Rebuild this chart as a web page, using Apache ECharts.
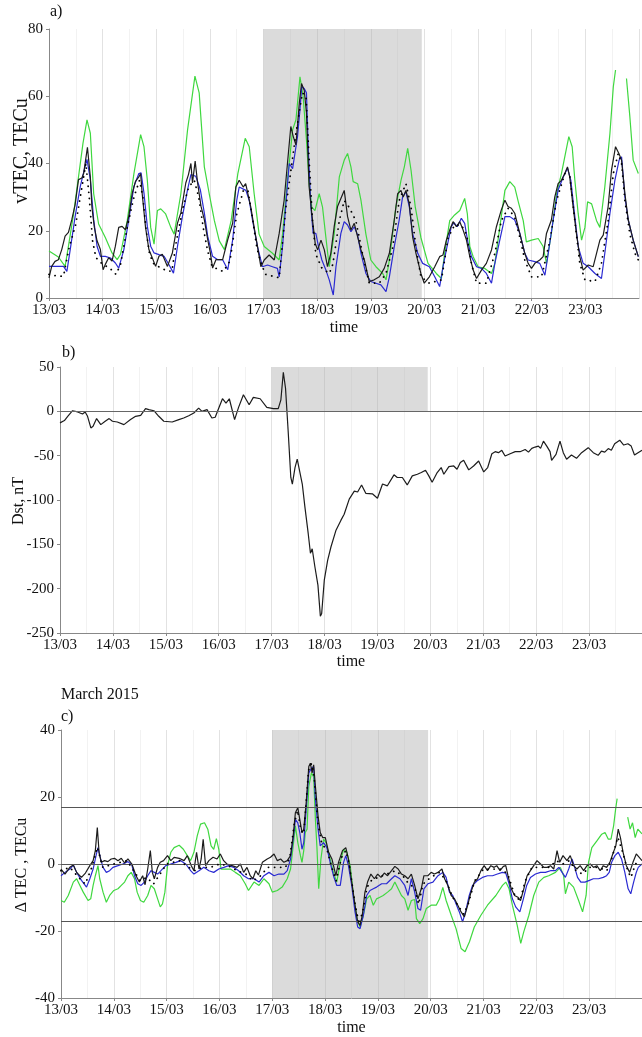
<!DOCTYPE html>
<html>
<head>
<meta charset="utf-8">
<script src="https://cdn.jsdelivr.net/npm/echarts@6/dist/echarts.min.js"></script>
<style>
  html, body { margin: 0; padding: 0; background: #fff; }
  #chart { width: 642px; height: 1037px; }
</style>
</head>
<body>
<div id="chart"></div>
<script>
// all series are [hours since 13/03 00:00, value]
const vtecGreen = [[0,14],[4.2,12.2],[7.2,9.4],[8.7,15.4],[11,25],[13.2,36],[15.2,46],[17,53],[18.5,49],[20,31],[22.2,22],[25.2,18],[28.2,13.4],[30.5,11.4],[32,13],[35,23],[38,37],[41,48.6],[42.5,45],[44,35],[45.5,21],[47,16],[48.5,26],[50,26.5],[52.2,25],[54.5,21],[56,19],[59,31],[62,50],[65.3,66],[67.2,61],[69.5,39],[71.7,31],[74,23],[76.2,17],[78.5,14.4],[81.5,23],[84.5,37],[87.8,47.5],[89.6,45],[91.8,31],[94,19],[96.3,15.3],[100,13.3],[103,11.3],[104.5,19],[106.7,35],[109,50],[110.5,53],[112.3,65.8],[113.7,60],[115.2,47],[116.4,34],[117.6,27],[119,26],[120.9,31],[122.4,27],[123.9,18],[125.4,9.3],[127.6,19],[129.9,36],[132.1,41],[133.6,43],[135.1,39],[136.1,34.6],[138.1,34],[139.6,29],[141.8,19],[144,11.3],[146.3,9.3],[149.3,7.3],[150.8,5.4],[152.3,11.3],[155.2,27],[157.5,35],[159,39],[160.5,44.5],[162,38],[163.9,27],[166.4,18],[169.6,10.3],[173.3,7.3],[175.6,5.8],[177,13.3],[179.3,23],[181.5,24.7],[183.8,26],[186,29.6],[187.2,25],[188.3,15.3],[189.8,12.3],[192,9.3],[195,8.8],[198,7.3],[199.5,10.3],[201.7,21],[204,32],[206.2,34.6],[208.4,33],[210,28.6],[212.2,23],[213.6,16.7],[215.9,17.2],[218.9,17.7],[221.1,15.3],[222.6,10.3],[224.8,19.2],[227.1,31],[229.3,37],[231.1,43],[232.6,48],[234.1,45],[235.3,35],[236.8,25],[238.3,17.2],[239.8,21],[241,28.6],[242.8,28],[245,23],[246.5,21],[248.7,33],[251,49],[252.5,62.8],[253.5,67.8],[255,'-'],[258.4,65.3],[259.9,54],[261.4,41],[263.7,37]];

const vtecBlue = [[0,9.4],[6.5,9.4],[8,7.9],[9.5,14.4],[11.7,24.3],[14,33.2],[15.8,38.2],[17,41.2],[18.5,35.2],[20,23.3],[21.5,15.4],[23,12.4],[25.2,12.4],[27.5,11.9],[29.7,10.4],[31.2,8.9],[33.5,14.4],[35.7,23.3],[38,33.2],[40.2,37],[41.2,37.2],[42.5,31.2],[44,21.3],[45.5,15.4],[47,13.4],[49.2,12.9],[51.5,12.4],[53.7,9.9],[55.7,7.4],[57.5,15.4],[59.7,24.3],[62,32.2],[63.5,36.7],[65.7,36.2],[67.7,32.2],[69.5,25.3],[71,18.4],[73.2,12.4],[75.5,11.4],[77.7,11.4],[80,8.4],[82.2,17.4],[84,29],[85.1,33],[88.1,32],[89.6,29],[91.1,23],[93.3,15.3],[95.5,9.3],[97.8,9.8],[100,9.3],[102.2,8.8],[103,6.3],[104.5,15.3],[106,28],[107.5,40],[109,38.5],[109.7,38],[111.2,48],[112.3,56],[113.1,62.8],[114.2,62.3],[115.2,61],[116.1,43],[117.2,27],[118.2,19.2],[119.4,19.2],[120.6,15.3],[122.1,11.3],[123.9,8.3],[125.4,5.4],[127.2,0.9],[128.4,9.3],[130.6,19.2],[132.1,22.7],[133.6,21.7],[135.1,19.7],[136.6,21.2],[138.1,18.7],[139.6,13.3],[141.8,7.3],[144,4.9],[146.3,4.4],[148.5,3.9],[150.8,1.9],[152.3,6.3],[154.5,15.3],[156.7,23.2],[158.2,30],[159.7,31.6],[161.2,27.2],[162.7,19.2],[165,13.3],[167.2,10.3],[170.2,9.3],[172.6,6.3],[174.8,3.4],[176.3,9.3],[177.8,14.3],[180,21.2],[181.2,22.4],[182.7,21.2],[184.5,23.7],[186,22.2],[187.5,16.3],[189,12.3],[191.3,9.3],[193.5,8.8],[195.7,7.3],[198,4.4],[199.5,10.3],[201.7,17.2],[204,24.2],[206.2,24.2],[208.4,23.2],[210.7,19.2],[212.9,13.3],[214.4,11.3],[217.4,10.8],[219.6,10.3],[221.9,6.8],[223.4,13.3],[225.6,23.2],[227.8,32.1],[230.1,36],[232,38.6],[233.5,35],[235.3,24.2],[236.8,15.3],[239,10.3],[241.3,9.3],[244.3,7.3],[247.2,5.8],[248.7,13.3],[251,25.2],[253.2,35],[255.1,41],[256.2,42],[257.7,30],[259.2,23.2],[261.4,17.2],[263.7,12.3]];

const vtecBlack = [[0,6],[1.2,9.4],[2.7,10.9],[4.2,11.4],[5.7,14.4],[7.2,18.4],[8.7,19.5],[10.2,23.3],[11.7,27.8],[13.2,35.2],[14.7,35.7],[15.5,37],[17.2,44.8],[18.5,36],[19.2,27],[20.3,21],[21.5,17],[23,14.4],[24.2,8.4],[25.2,10],[26.7,12],[28.2,11],[29.7,15.4],[31.2,21],[32.7,21.3],[34.2,20.3],[35.7,24.3],[37.2,31],[38.7,34.7],[40.2,36],[41,37],[41.7,31],[43.2,21],[44.7,14.4],[46.2,12],[47.7,9.4],[49.2,12.4],[50.7,13],[53,9.4],[55.2,13.4],[57.5,22.3],[59,25.3],[61.2,34.2],[62.4,36.7],[63.5,40],[64.2,34.2],[65.4,40.7],[66.5,34.2],[68,27.3],[69.5,23.3],[71,17.4],[72.2,13.4],[73.2,8.9],[74.7,11.4],[76.2,11.4],[77.7,11.4],[80,17.4],[82.2,22.3],[83.6,33],[85.1,35],[85.8,35.3],[86.9,33],[88,34],[88.8,34],[90.3,27],[91.8,21],[93.3,15.3],[94.8,9.3],[96.3,11.3],[98.5,12.8],[100.8,11.3],[103,19.2],[105.2,29],[106.7,40],[108.2,51],[109.3,48],[110.5,45.5],[112,58],[113,63.8],[114.2,61.8],[115.2,55],[116.4,33],[117.6,25],[119.1,16.3],[120.2,14.3],[121.7,17.2],[123.2,14.3],[124.6,9.3],[126.1,13.3],[127.6,21.2],[129.1,27.2],[130.6,29.6],[132.1,32],[133.6,24.2],[135.1,20.2],[136.6,22.2],[138.1,18.2],[139.6,14.3],[141.1,11.3],[143.3,4.9],[145.5,5.4],[147.8,6.3],[150,8.8],[152.3,13.3],[154.5,23.2],[156,31],[157.5,32],[158.5,30],[159.7,32],[161.2,28],[162.7,18.2],[164.2,13.3],[166.4,7.3],[167.9,4.4],[170.2,6.3],[172.6,9.3],[174.8,12.3],[176.3,12.8],[177.8,17.2],[179.3,20.2],[180.8,22.7],[182.3,21.2],[183.8,22.7],[185.3,20.2],[186.8,17.2],[188.3,12.3],[189.8,8.3],[191.3,5.8],[193.5,8.3],[195.7,10.3],[198,14.3],[200.2,21.2],[202.4,26.2],[204,29.1],[205.4,27.2],[206.9,26.7],[208.4,25.2],[209.9,21.2],[211.4,17.2],[212.9,13.3],[214.4,10.3],[215.9,8.8],[217.4,10.3],[219.6,11.3],[221.1,12.3],[222.6,19.2],[224.8,23.2],[226.3,30],[227.8,34],[229.3,35],[230.8,37],[232,39],[233,36],[234.5,27.2],[236,19.2],[237.5,12.3],[239,8.3],[241.3,9.8],[243.5,9.3],[245,13.3],[246.5,17.2],[248,18.7],[250.2,27.2],[251.7,38],[253.5,45],[255,43],[256.2,41],[257.7,31],[259.2,23.2],[261.4,17.2],[263.7,12.3]];

const vtecDots = [[0,7],[4,6.5],[6.5,6.5],[9,15],[12,22],[14,30],[16.5,40],[18,30],[19.5,17],[21,12],[24,10],[27,9],[30,7],[32,10],[35,21],[38,30],[40.5,35],[42,30],[43.5,20],[45,13],[47,10],[50,9],[53,8],[55,8],[57,17],[60,27],[62.5,33],[65,35],[67,30],[69,21],[71,14],[73,9.4],[76,8.4],[78,7.9],[81,11],[84,25],[87,32],[89,32],[91,24],[93,15],[95,10],[97,7],[100,6.5],[103,6],[106,27],[110.5,49],[113.4,61],[115,60],[116.4,41],[117.9,23],[119.4,13],[122,9],[125.4,7.3],[127,10],[129.9,23],[132.1,29],[134.3,27],[137.3,23],[140.3,13],[143.3,4.4],[147.8,4.4],[150.8,7.3],[153.8,15],[156.7,29],[159.7,34],[162,27],[164.2,15],[166.4,6.3],[170.2,4.4],[175.6,5.4],[178.6,18],[181.5,21.7],[184.5,21.7],[186.8,19],[189,10.3],[191.3,4.4],[195.7,4.4],[199.5,13.3],[202.4,23],[205.4,26.7],[208.4,24],[210.7,18],[212.9,11.3],[215.9,6.3],[220.4,6.3],[224.1,17],[227.1,29],[230.8,37],[233.1,36],[235.3,23],[237.5,10.3],[239.8,5.4],[244.3,4.9],[247.2,10.3],[250.2,23],[252.5,37],[254.7,43],[256.2,40],[257.7,29],[259.9,19],[262.2,13.3],[263.7,11.3]];

const dst = [[0,-13],[2,-10.4],[3.5,-5.6],[5.7,0.7],[8,-0.7],[10.2,-3],[11.4,-0.7],[12.5,-5.6],[14,-18.7],[15,-16.8],[16.6,-8.2],[18.5,-15],[20.5,-11.2],[22.3,-8.2],[23.8,-11.2],[26,-12],[29,-15],[32,-9.3],[34.3,-5.6],[36.6,-4.5],[38.8,3],[40.3,1.9],[42.6,0.7],[44.8,-5.6],[47.1,-11.2],[50.9,-12],[53.9,-9.3],[56.1,-7.5],[58.4,-4.9],[60.7,-1.9],[62.9,3.7],[64.4,0],[66.7,1.9],[68.9,-7.5],[70.4,-6.7],[71.9,3],[73.7,14.2],[75.3,9.3],[76.8,14.2],[79.2,-9.3],[81,4.5],[83.2,18.7],[85.8,7.5],[87.7,15.7],[90.8,14.2],[93.8,4.5],[96.8,3],[99,3],[100.2,13],[101.3,44],[102.3,26],[103.5,-22.4],[104.7,-74.6],[105.4,-82],[106.6,-63.4],[107.6,-54],[108.5,-56],[109.9,-82],[111.1,-108],[112.6,-138],[113.6,-160],[114.4,-155],[115.6,-175],[117,-196],[118.1,-231],[118.7,-228],[119.9,-190],[121.4,-168],[122.9,-153],[125.2,-134],[127.4,-123],[128.9,-116],[131.2,-99],[133.5,-90],[135,-91],[136.8,-83],[138.7,-92.5],[141.7,-93],[144,-98],[146.3,-82],[148.5,-84],[151.5,-71.6],[153,-74.6],[155.3,-74.6],[157.5,-83],[159.8,-72.8],[162.1,-71],[163.9,-69],[165.8,-66.4],[167.3,-72.8],[168.8,-80],[171.1,-69],[172.9,-63.4],[174.1,-71],[176.4,-62.3],[178.6,-61.6],[180.1,-65.3],[181.6,-57.8],[183.1,-55.2],[185.4,-66],[187.6,-61.6],[189.9,-56],[192.2,-68.3],[194,-63.4],[195.9,-47.8],[197.4,-45.5],[198.9,-46.6],[200.4,-44],[201.9,-50.4],[204.2,-47.8],[206.5,-45.5],[208.7,-45.5],[211,-43],[212.5,-46],[214,-41.8],[215.5,-40.3],[217,-39.2],[218,-41.8],[219.3,-33.6],[220.8,-39.2],[222.3,-45.5],[223,-55.2],[225,-48.5],[226.8,-33.6],[228.3,-46.6],[229.8,-54],[232,-49.3],[234.3,-53],[236.6,-46.6],[239.6,-41],[241.9,-46.6],[244.1,-49.6],[245.6,-44.8],[247.1,-46],[248.7,-42],[250.1,-44],[251.6,-36.6],[253.9,-32.5],[255.7,-38],[257.6,-36.6],[259.1,-39.2],[260.6,-49.3],[262.2,-46.6],[264,-44]];

const dtecBlack = [[0,-1.5],[1.8,-3],[4,-1],[5.6,-0.3],[7.1,-2.5],[9.3,-4],[11.1,-2.7],[13.1,-0.5],[14.6,1],[15.6,4],[16.5,10.9],[17.3,3.5],[18.3,0.5],[19.8,1],[21.3,0.7],[22.8,1.5],[24.3,1.7],[25.9,1],[27.4,1.7],[28.9,0.3],[30.4,1.5],[32.2,0],[34.1,-3.5],[35.6,-5.4],[37.1,-3.5],[38.2,-6.2],[39.4,-1.5],[40.6,4],[41.5,-2.5],[42.4,-4.4],[43.9,-1],[45.1,0.5],[46.6,1],[48.4,2.5],[49.9,1],[51.4,2],[53.7,1.7],[55.9,1],[57.4,2.5],[59.2,-0.5],[60.4,-2],[61.6,3.5],[62.7,-1.5],[63.7,1.5],[64.6,7.4],[65.7,-0.5],[67.2,1],[69.1,2],[70.9,1.5],[72.4,3],[73.9,1],[75.4,0],[77.7,-0.5],[80,-1],[81.5,0],[83,-2.5],[84.5,-1],[86,-3.5],[87.2,-4.4],[88.5,-2],[89.7,-3.3],[91.5,0.5],[93.7,1.5],[95.2,2],[96.8,3],[98.3,1],[99.8,1.5],[101.3,0.5],[102.8,1],[104.3,2.5],[105.5,8.4],[106.5,15.3],[107.6,16.8],[108.5,13.3],[109.5,9.4],[110.3,10.4],[111.4,18.3],[112.6,29.1],[113.3,30.1],[114.1,27.2],[114.8,29.6],[115.6,23.2],[116.8,14.3],[117.8,9.4],[118.9,7.9],[120.1,7.9],[121.6,3.5],[123.1,1.5],[124.9,-3.5],[126.1,0.5],[127.9,4],[129.4,4.9],[130.6,1.5],[132.1,-5.4],[133.6,-12.3],[134.8,-17.3],[135.9,-18.3],[136.9,-15.3],[138.1,-8.4],[139.3,-5.4],[140.8,-3],[142.4,-4.4],[143.9,-3],[145.4,-4],[146.9,-2.7],[148.4,-3.5],[150.2,-2],[151.7,-0.7],[153.2,-1.5],[154.7,-3],[156.2,-3.5],[157.7,-4.4],[159.2,-3],[160.7,-6.4],[162.2,-10.4],[163.7,-7.4],[164.9,-3.5],[166.7,-3.5],[168.2,-2.5],[169.7,-3],[171.3,-2.5],[173.1,-1.5],[174.3,-4.4],[175.8,-6.4],[177.3,-9.4],[178.8,-10.4],[180.3,-12.3],[181.8,-14.3],[183.3,-15.8],[184.8,-12.3],[186.3,-8.4],[187.8,-5.4],[189.3,-4.4],[190.8,-2],[192.3,-0.5],[193.8,-2],[195.3,-0.5],[196.8,-1],[198,-0.5],[199.5,-2],[201,-0.7],[202.1,-0.5],[203.1,-3.5],[204.6,-7.4],[206.1,-9.4],[207.6,-9.9],[208.8,-10.9],[210.3,-7.4],[211.8,-3.5],[213.3,-2],[214.8,-0.5],[216.3,1],[217.9,0],[219.4,-1],[220.9,-1],[222.4,-0.5],[223.9,-1.5],[225.4,4],[226.6,0.5],[228.1,2.5],[229.9,1],[231.4,2.5],[232.9,-0.5],[234.4,-1.5],[235.9,-0.5],[237.5,-2],[239,-0.5],[240.5,0],[242,-1],[243.5,-0.5],[245,-2],[246.4,-0.5],[247.9,-1],[249.4,0.5],[251,3.5],[252.1,5.4],[253.2,10.4],[254.2,7.9],[255.4,3.5],[256.9,-0.5],[258.4,-2.5],[259.9,0.5],[261.4,3],[262.3,2.5],[264,1]];

const dtecBlue = [[0,-3.5],[1.8,-2.5],[4,-1.5],[5.6,-0.3],[7.1,-2.5],[9.3,-4.9],[11.6,-6.9],[13.1,-4.4],[14.6,-1.5],[16.1,3],[16.8,4.9],[18,1.5],[19.1,-1],[20.6,-2.5],[22.1,-2],[23.6,-1],[25.9,-0.5],[28.1,0],[30.4,0.7],[32.2,-0.3],[33.4,-3.5],[34.9,-5.9],[36.4,-6.4],[37.9,-5.4],[39.4,-3.5],[40.9,-2],[42.4,-2.5],[43.9,-3],[45.4,-2],[47.6,-0.5],[49.9,0],[52.2,0.5],[54.4,1],[56.7,0],[58.9,-2],[60.4,-3],[62.7,-2],[64.9,-1],[67.2,-2],[69.4,-2.5],[71.7,-1.5],[74,-1],[76.2,-0.5],[78.5,-1],[80.7,-2],[83,-3.5],[85.2,-4.4],[87.7,-4.4],[90,-5.4],[92.2,-3.5],[94.5,-2.5],[96.8,-3.5],[99,-3],[101.3,-3],[102.8,-2],[104.3,1.5],[105.5,7.4],[106.5,13.3],[107.6,12.3],[108.5,9.4],[109.5,4.4],[110.3,6.4],[111.4,16.3],[112.6,27.2],[113.8,28.6],[114.8,29.1],[115.6,19.3],[116.8,10.4],[117.8,5.4],[119.3,6.4],[120.8,4.9],[122.3,0.5],[123.8,-3.5],[125.3,-6.4],[126.9,-6.4],[128.4,0.5],[129.4,2.5],[130.6,-0.5],[132.1,-6.4],[133.6,-14.3],[134.8,-18.8],[135.9,-19.3],[137.4,-15.3],[138.9,-9.4],[140.4,-7.9],[141.9,-7.4],[143.4,-6.9],[145.7,-5.9],[147.9,-5.9],[150.2,-4.4],[151.7,-3.5],[154,-4.4],[156.2,-6.4],[157.7,-9.4],[159.2,-4.4],[160.7,-8.4],[162.2,-13.3],[163.4,-13.8],[164.9,-7.4],[166.7,-5.9],[169,-5.4],[171.3,-3.5],[173.5,-2.5],[175,-4],[176.5,-8.4],[178,-9.4],[179.5,-11.9],[181,-14.3],[182.5,-17.3],[184,-13.8],[185.5,-9.4],[187,-6.4],[189.3,-4.9],[191.5,-4],[193.8,-3.5],[196.1,-3.5],[198.3,-3],[200.6,-2.5],[202.1,-2.7],[203.6,-5.9],[205.1,-10.4],[206.6,-12.8],[208.5,-14.3],[210.1,-10.4],[211.6,-6.4],[213.3,-4],[215.6,-3],[217.9,-2.5],[220.1,-2.5],[222.4,-2],[224.7,-2],[226.2,-1],[227.7,-2.5],[229.2,-4],[230.7,-1.5],[232.2,1.5],[233.2,-0.5],[234.7,-4],[236.2,-5.4],[238.1,-5.4],[240.1,-4.9],[241.9,-4.4],[244.2,-4.4],[246.4,-4],[247.9,-3.5],[249.1,-2.5],[250.2,0.5],[251.7,2.5],[253.2,3.5],[254.7,1.5],[256.2,-2.5],[257.7,-7.4],[258.9,-8.9],[260.2,-5.4],[261.4,-2.5],[262.3,-1],[264,0]];

const dtecGreen = [[0,-10.9],[1.5,-11.4],[3.3,-9.4],[5.6,-5.4],[7.1,-4.4],[8.6,-6.4],[10.1,-8.4],[12.3,-10.9],[13.5,-10.4],[14.6,-6.4],[15.6,-3.5],[16.8,-0.5],[17.6,-4.4],[19.1,-8.4],[20.6,-11.4],[22.1,-9.4],[24,-7.9],[25.9,-7.4],[27.4,-6.4],[28.9,-5.4],[30.4,-3.5],[31.9,-2.5],[33.4,-4.4],[34.6,-8.4],[36.1,-10.9],[37.6,-11.4],[39.4,-9.4],[40.9,-6.4],[42.4,-7.4],[43.9,-10.4],[45.1,-12.8],[46.1,-11.9],[47.2,-8.4],[48.4,-0.5],[49.9,3.5],[51.4,4.9],[53.7,5.6],[55.6,4.4],[57.4,2.5],[58.9,1],[60.4,3.5],[61.9,8.4],[63.4,11.9],[65.2,12.3],[66.7,10.4],[68.2,5.4],[69.4,4.4],[70.6,7.6],[71.7,4.4],[72.7,-1.5],[74.7,-1.5],[77,-1.5],[79.2,-2.5],[81.5,-3.5],[83.7,-5.9],[85.2,-7.9],[87.7,-5.4],[90,-6.4],[92.2,-4.4],[94.5,-5.9],[96,-8.4],[98.3,-7.9],[100.5,-6.9],[102.8,-4.4],[104.3,-1.5],[105.5,5.4],[106.5,11.4],[107.6,6.4],[108.8,2.5],[109.5,0.5],[110.3,4],[111,9.4],[111.8,10.4],[112.6,23.2],[113.8,27.2],[114.8,26],[115.6,13.3],[116.3,4.9],[117.1,-7.4],[118.1,1.5],[119.3,7.4],[120.4,6.4],[122.3,1.5],[123.8,-2.5],[125.3,-5.4],[126.9,0.5],[128.4,4.4],[129.9,3.5],[131.4,-0.5],[132.9,-9.4],[134.4,-16.3],[135.9,-18.8],[137.4,-15.3],[138.9,-10.4],[140.4,-9.4],[141.9,-12.3],[143.4,-10.4],[144.9,-9.9],[146.4,-9.4],[148.4,-8.4],[150.2,-7.4],[151.7,-5.4],[153.2,-7.4],[154.7,-9.4],[156.2,-10.4],[157.7,-13.8],[159.2,-10.9],[160.7,-10.6],[161.5,-16.3],[163,-17.8],[164.5,-16.3],[166,-13.3],[168.2,-12.3],[170.5,-12.3],[172,-10.4],[173.5,-7],[175,-10.9],[177.3,-15.3],[179.5,-19.3],[181.8,-25.2],[183.6,-26.2],[185.6,-23.2],[187.8,-18.8],[190.8,-15.3],[193.8,-12.3],[197.6,-9.4],[200.6,-6.4],[202.1,-5.4],[203.6,-7.4],[205.1,-12.3],[207.3,-18.3],[208.9,-23.7],[210.3,-20.2],[212.6,-15.3],[214.8,-9.4],[217.1,-5.4],[219.4,-4],[221.6,-3.5],[224.7,-2.5],[226.9,-1],[228.4,-3.5],[229.2,-8.9],[230.7,-5.4],[232.9,-6.9],[235.2,-10.9],[237,-14.3],[238.6,-9.4],[239.7,0.5],[241.2,4.9],[243.5,6.9],[245.7,8.9],[247.2,9.4],[248.7,7.4],[249.9,7.4],[251.1,11.4],[252,16.3],[252.7,19.5],[254,'-'],[257.5,14],[258.6,10.4],[259.7,12.3],[260.9,7.9],[262.1,10.4],[264,9]];

const dtecDots = [[0,-2],[4,-1],[8,-4],[11,-6],[14,-1],[16.5,5],[19,-1],[24,0],[30,1],[33,-2],[36,-5],[39,-4],[42,-6],[45,-3],[48,0],[54,1],[58,-1],[61,-2],[64,-1],[68,-1],[72,0],[76,-0.5],[80,-2],[84,-3],[87,-5],[90,-4],[94,-1],[98,-1],[102,-1],[104,2],[106,12],[107.5,16],[109,10],[110.3,9],[112.5,28],[113.8,30],[115,26],[116.8,12],[118.5,6],[121,4],[123,-1],[125,-5],[127.5,2],[129.4,4],[131,0],[133.6,-12],[135.5,-18],[137.5,-13],[139,-7],[141,-5],[144,-4],[148,-3],[152,-2],[156,-4],[158,-6],[160.7,-7],[162.5,-12],[164.5,-6],[168,-4],[172,-2.5],[175,-5],[178,-10],[181,-13],[183,-15],[185,-12],[188,-5],[192,-1.5],[196,-1.5],[200,-1.5],[203,-3],[206,-9],[208.5,-11],[211,-5],[214,-1],[218,-1],[222,-1],[225,1],[228,0],[231,1],[234,-2],[237,-3],[240,-1],[244,-1],[248,-2],[250,1],[253,8],[255,4],[257.5,-2],[259,-4],[261,0],[263,1]];

// storm interval (days of March) and the +-17 TECu band
const stormStart = 17;
const stormEnd = 19.95;
const dtecBand = [17, 0, -17];

const FONT = 'Liberation Serif';
const toDay = arr => arr.map(p => [13 + p[0] / 24, p[1]]);

function xAxisFor(i) {
    return {
        type: 'value', gridIndex: i, min: 13, max: 24, interval: 1,
        name: 'time', nameLocation: 'middle', nameGap: i === 1 ? 21 : 22,
        nameTextStyle: { fontFamily: FONT, fontSize: 16, color: '#111' },
        axisLine: { show: true, onZero: false, lineStyle: { color: '#888', width: 1 } },
        axisTick: { show: true, length: 3, lineStyle: { color: '#888' } },
        axisLabel: {
            fontFamily: FONT, fontSize: 15, color: '#111', margin: 5,
            showMaxLabel: false,
            formatter: v => v + '/03'
        },
        splitLine: { show: true, lineStyle: { color: '#e2e2e2', width: 1 } },
        minorTick: { show: false, splitNumber: 2 },
        minorSplitLine: { show: true, lineStyle: { color: '#f2f2f2', width: 1 } }
    };
}

function yAxisFor(i, min, max, interval) {
    return {
        type: 'value', gridIndex: i, min: min, max: max, interval: interval,
        axisLine: { show: true, lineStyle: { color: '#888', width: 1 } },
        axisTick: { show: true, length: 3, lineStyle: { color: '#888' } },
        axisLabel: { fontFamily: FONT, fontSize: 15, color: '#111', margin: 6 },
        splitLine: { show: false }
    };
}

function lineSeries(i, data, color, dotted) {
    return {
        type: 'line', xAxisIndex: i, yAxisIndex: i,
        data: toDay(data), showSymbol: false, symbol: 'none',
        connectNulls: false, silent: true, z: dotted ? 5 : 3,
        lineStyle: dotted
            ? { color: '#000', width: 1.8, type: [0.1, 6], cap: 'round' }
            : { color: color, width: 1.2 }
    };
}

const shade = 'rgba(175,175,175,0.45)';

const option = {
    animation: false,
    backgroundColor: '#fff',
    grid: [
        { left: 49, top: 29, width: 590, height: 269 },
        { left: 60, top: 367, width: 586, height: 266 },
        { left: 61, top: 730, width: 586, height: 270 }
    ],
    xAxis: [xAxisFor(0), xAxisFor(1), xAxisFor(2)],
    yAxis: [yAxisFor(0, 0, 80, 20), yAxisFor(1, -250, 50, 50), yAxisFor(2, -40, 40, 20)],
    graphic: [
        { type: 'text', left: 50, top: 4, style: { text: 'a)', font: '16px "Liberation Serif"', fill: '#111' } },
        { type: 'text', left: 62, top: 345, style: { text: 'b)', font: '16px "Liberation Serif"', fill: '#111' } },
        { type: 'text', left: 61, top: 687, style: { text: 'March 2015', font: '16px "Liberation Serif"', fill: '#111' } },
        { type: 'text', left: 61, top: 709, style: { text: 'c)', font: '16px "Liberation Serif"', fill: '#111' } },
        { type: 'text', x: 22, y: 151, rotation: Math.PI / 2,
          style: { text: 'vTEC, TECu', font: '20px "Liberation Serif"', fill: '#111', align: 'center', verticalAlign: 'middle' } },
        { type: 'text', x: 19, y: 501, rotation: Math.PI / 2,
          style: { text: 'Dst, nT', font: '16px "Liberation Serif"', fill: '#111', align: 'center', verticalAlign: 'middle' } },
        { type: 'text', x: 22, y: 865, rotation: Math.PI / 2,
          style: { text: 'Δ TEC , TECu', font: '16px "Liberation Serif"', fill: '#111', align: 'center', verticalAlign: 'middle' } }
    ],
    series: [
        // panel a
        {
            type: 'line', xAxisIndex: 0, yAxisIndex: 0, data: [], z: 1, silent: true,
            markArea: { silent: true, itemStyle: { color: shade }, data: [[{ xAxis: stormStart }, { xAxis: stormEnd }]] }
        },
        lineSeries(0, vtecGreen, '#3fd83f'),
        lineSeries(0, vtecBlue, '#2a2ad2'),
        lineSeries(0, vtecBlack, '#1c1c1c'),
        lineSeries(0, vtecDots, '#000', true),
        // panel b
        {
            type: 'line', xAxisIndex: 1, yAxisIndex: 1, data: [], z: 1, silent: true,
            markArea: { silent: true, itemStyle: { color: shade }, data: [[{ xAxis: stormStart, yAxis: 0 }, { xAxis: stormEnd, yAxis: 50 }]] },
            markLine: { silent: true, symbol: ['none', 'none'], label: { show: false },
                lineStyle: { color: '#666', width: 1, type: 'solid' }, data: [{ yAxis: 0 }] }
        },
        lineSeries(1, dst, '#1c1c1c'),
        // panel c
        {
            type: 'line', xAxisIndex: 2, yAxisIndex: 2, data: [], z: 1, silent: true,
            markArea: { silent: true, itemStyle: { color: shade }, data: [[{ xAxis: stormStart }, { xAxis: stormEnd }]] },
            markLine: { silent: true, symbol: ['none', 'none'], label: { show: false },
                lineStyle: { color: '#555', width: 1.2, type: 'solid' }, data: dtecBand.map(v => ({ yAxis: v })) }
        },
        lineSeries(2, dtecGreen, '#3fd83f'),
        lineSeries(2, dtecBlue, '#2a2ad2'),
        lineSeries(2, dtecBlack, '#1c1c1c'),
        lineSeries(2, dtecDots, '#000', true)
    ]
};

const chart = echarts.init(document.getElementById('chart'), null, { renderer: 'canvas' });
chart.setOption(option);
</script>
</body>
</html>
